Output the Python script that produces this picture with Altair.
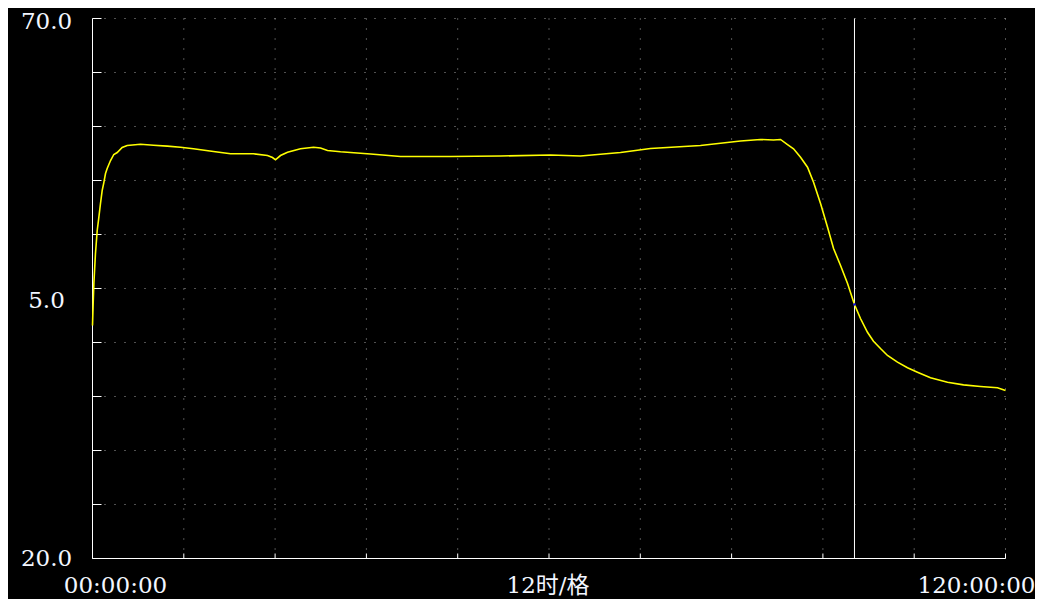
import altair as alt
import pandas as pd

# ---- data ----
hours = [0.0, 0.10, 0.18, 0.39, 0.62, 0.83, 1.05, 1.27, 1.49, 1.71, 1.93, 2.37, 2.80, 3.25, 3.90,
         4.56, 6.31, 8.02, 9.82, 11.57, 13.27, 15.90, 18.14, 21.16, 23.00, 23.66, 24.05, 24.71,
         25.63, 27.34, 29.05, 29.97, 30.89, 32.60, 36.54, 40.48, 47.05, 53.63, 60.20, 64.14,
         69.40, 73.34, 79.91, 85.17, 87.80, 89.51, 90.43, 91.35, 92.14, 93.06, 93.98, 94.77,
         95.69, 96.61, 97.40, 98.32, 99.24, 100.15, 100.94, 101.86, 102.65, 103.57, 104.49,
         105.80, 107.12, 108.43, 110.14, 112.38, 114.48, 116.71, 118.95, 120.0]
values = [41.57, 43.89, 45.46, 48.24, 50.37, 51.57, 52.87, 54.07, 54.81, 55.65, 56.11, 56.85,
          57.41, 57.59, 58.06, 58.24, 58.36, 58.27, 58.18, 58.08, 57.94, 57.69, 57.47, 57.47,
          57.31, 57.13, 56.92, 57.31, 57.62, 57.94, 58.08, 58.01, 57.78, 57.66, 57.45, 57.22,
          57.22, 57.27, 57.36, 57.27, 57.59, 57.96, 58.24, 58.66, 58.80, 58.75, 58.80, 58.33,
          57.94, 57.16, 56.23, 54.84, 52.87, 50.68, 48.70, 47.13, 45.46, 43.52, 42.22, 40.95,
          40.12, 39.44, 38.80, 38.18, 37.66, 37.25, 36.73, 36.32, 36.08, 35.93, 35.81, 35.56]

cursor_hour = [100.15]
cursor_value = [43.52]

y_ticks = [20, 25, 30, 35, 40, 45, 50, 55, 60, 65, 70]
x_ticks = [0, 12, 24, 36, 48, 60, 72, 84, 96, 108, 120]

y_label_values = [70.0, 43.8, 20.0]
y_label_texts = ["70.0", "5.0", "20.0"]
x_label_values = [0, 60, 120]
x_label_texts = ["00:00:00", "12时/格", "120:00:00"]

# ---- chart ----
W, H = 913, 540
FONT = "DejaVu Serif, Noto Sans CJK SC"
FS = 23
TXT = "#f2f6ff"
GRID = "#a0a0a0"

xs = alt.Scale(domain=[0, 120], nice=False, zero=False)
ys = alt.Scale(domain=[20, 70], nice=False, zero=False)


def X(field):
    return alt.X(field, type="quantitative", scale=xs, axis=None)


def Y(field):
    return alt.Y(field, type="quantitative", scale=ys, axis=None)


ydf = pd.DataFrame({"v": y_ticks})
xdf = pd.DataFrame({"h": x_ticks})

# dotted grid
h_grid = alt.Chart(ydf).mark_rule(color=GRID, strokeWidth=1, strokeDash=[1, 9]).encode(y=Y("v"))
v_grid = alt.Chart(xdf).mark_rule(color=GRID, strokeWidth=1, strokeDash=[1, 9]).encode(x=X("h"))

# solid left and bottom axis lines
left_domain = alt.Chart(xdf.iloc[[0]]).mark_rule(color="white", strokeWidth=1).encode(x=X("h"))
bottom_domain = alt.Chart(ydf.iloc[[0]]).mark_rule(color="white", strokeWidth=1).encode(y=Y("v"))

# inward ticks
y_tick_layer = alt.Chart(ydf).mark_rule(color="white", strokeWidth=1).encode(
    y=Y("v"), x=alt.value(0), x2=alt.value(9)
)
x_tick_layer = alt.Chart(xdf).mark_rule(color="white", strokeWidth=1).encode(
    x=X("h"), y=alt.value(H - 5), y2=alt.value(H)
)

curve = alt.Chart(pd.DataFrame({"h": hours, "v": values})).mark_line(
    color="#ffff00", strokeWidth=1.6
).encode(x=X("h"), y=Y("v"))

cursor_df = pd.DataFrame({"h": cursor_hour, "v": cursor_value})
cursor_rule = alt.Chart(cursor_df).mark_rule(color="white", strokeWidth=1).encode(x=X("h"))
cursor_dot = alt.Chart(cursor_df).mark_square(color="#0000ff", filled=True, size=5, opacity=1).encode(
    x=X("h"), y=Y("v")
)

yl_df = pd.DataFrame({"v": y_label_values, "t": y_label_texts})
ylab_top = alt.Chart(yl_df.iloc[[0]]).mark_text(
    font=FONT, fontSize=FS, color=TXT, align="center", baseline="middle", dy=3
).encode(y=Y("v"), x=alt.value(-46), text="t:N")
ylab_rest = alt.Chart(yl_df.iloc[[1, 2]]).mark_text(
    font=FONT, fontSize=FS, color=TXT, align="center", baseline="middle"
).encode(y=Y("v"), x=alt.value(-46), text="t:N")

xl_df = pd.DataFrame({"h": x_label_values, "t": x_label_texts})
xlab_left = alt.Chart(xl_df.iloc[[0]]).mark_text(
    font=FONT, fontSize=FS, color=TXT, align="center", baseline="middle", dx=23
).encode(x=X("h"), y=alt.value(H + 27), text="t:N")
xlab_mid = alt.Chart(xl_df.iloc[[1]]).mark_text(
    font=FONT, fontSize=FS, color=TXT, align="center", baseline="middle", dx=-1
).encode(x=X("h"), y=alt.value(H + 27), text="t:N")
xlab_right = alt.Chart(xl_df.iloc[[2]]).mark_text(
    font=FONT, fontSize=FS, color=TXT, align="center", baseline="middle", dx=-29
).encode(x=X("h"), y=alt.value(H + 27), text="t:N")

chart = alt.layer(
    h_grid, v_grid, left_domain, bottom_domain, y_tick_layer, x_tick_layer,
    cursor_rule, curve, cursor_dot,
    ylab_top, ylab_rest, xlab_left, xlab_mid, xlab_right,
).properties(
    width=W, height=H,
    autosize=alt.AutoSizeParams(type="none"),
    padding={"left": 84.5, "top": 10.5, "right": 29.5, "bottom": 40},
).configure(
    background="black",
).configure_view(
    strokeWidth=0,
)

chart.save("out.html", embed_options={"renderer": "svg", "actions": False})
